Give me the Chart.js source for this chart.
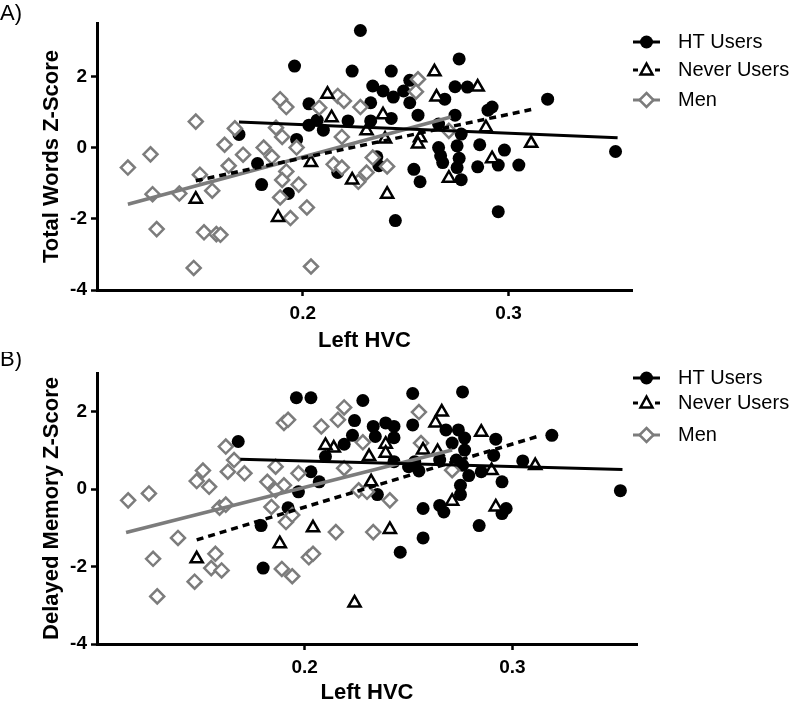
<!DOCTYPE html>
<html>
<head>
<meta charset="utf-8">
<script src="https://cdn.jsdelivr.net/npm/chart.js@4.4.0/dist/chart.umd.min.js"></script>
<style>
  body { margin: 0; background: #fff; }
  canvas { display: block; }
</style>
</head>
<body>
<canvas id="panelA" width="800" height="352"></canvas>
<canvas id="panelB" width="800" height="352"></canvas>
<script>
// ---- data: panel A (Total Words) ----
const htA_x = [0.228, 0.196, 0.224, 0.203, 0.203, 0.207, 0.210, 0.222, 0.169, 0.197, 0.178, 0.217, 0.180, 0.193,
  0.276, 0.243, 0.234, 0.239, 0.244, 0.249, 0.252, 0.252, 0.233, 0.274, 0.280, 0.269, 0.233, 0.243, 0.256, 0.274,
  0.292, 0.290, 0.319, 0.352, 0.277, 0.266, 0.266, 0.275, 0.286, 0.298, 0.267, 0.268, 0.276, 0.275, 0.285, 0.295,
  0.305, 0.254, 0.257, 0.277, 0.236, 0.237, 0.245, 0.295];
const htA_y = [3.29, 2.29, 2.15, 1.23, 0.63, 0.77, 0.49, 0.75, 0.37, 0.23, -0.45, -0.70, -1.04, -1.29,
  2.49, 2.15, 1.73, 1.59, 1.42, 1.59, 1.89, 1.26, 1.26, 1.71, 1.70, 1.36, 0.75, 0.82, 0.91, 0.91,
  1.14, 1.05, 1.36, -0.11, 0.38, 0.66, 0.00, 0.05, 0.08, -0.07, -0.23, -0.42, -0.30, -0.56, -0.54, -0.49,
  -0.49, -0.61, -0.96, -0.90, -0.26, -0.51, -2.05, -1.80];
const neverA_x = [0.212, 0.214, 0.204, 0.224, 0.148, 0.188, 0.264, 0.285, 0.265, 0.239, 0.231, 0.257, 0.256,
  0.289, 0.311, 0.292, 0.271, 0.241, 0.240];
const neverA_y = [1.50, 0.84, -0.42, -0.91, -1.45, -1.96, 2.13, 1.70, 1.42, 0.92, 0.47, 0.28, 0.10,
  0.56, 0.12, -0.31, -0.86, -1.31, 0.24];
const menA_x = [0.115, 0.126, 0.148, 0.127, 0.129, 0.140, 0.150, 0.156, 0.152, 0.158, 0.160, 0.147, 0.167, 0.162,
  0.164, 0.171, 0.189, 0.192, 0.187, 0.190, 0.181, 0.185, 0.197, 0.192, 0.190, 0.198, 0.189, 0.202, 0.194, 0.204,
  0.215, 0.217, 0.220, 0.208, 0.219, 0.228, 0.256, 0.255, 0.234, 0.241, 0.231, 0.227, 0.271, 0.219];
const menA_y = [-0.56, -0.19, 0.73, -1.31, -2.29, -1.29, -0.76, -1.21, -2.38, -2.43, -2.45, -3.38, 0.54, 0.08,
  -0.51, -0.20, 1.36, 1.14, 0.56, 0.30, 0.00, -0.26, 0.00, -0.67, -0.91, -1.04, -1.40, -1.68, -1.98, -3.34,
  -0.47, 1.45, 1.31, 1.12, 0.30, 1.14, 1.92, 1.57, -0.28, -0.53, -0.70, -0.96, 0.47, -0.56];
// fitted lines, panel A
const htFitA_x = [0.169, 0.353];
const htFitA_y = [0.72, 0.28];
const neverFitA_x = [0.148, 0.311];
const neverFitA_y = [-0.93, 1.07];
const menFitA_x = [0.115, 0.272];
const menFitA_y = [-1.59, 0.86];

// ---- data: panel B (Delayed Memory) ----
const htB_x = [0.196, 0.203, 0.228, 0.168, 0.224, 0.223, 0.219, 0.210, 0.203, 0.207, 0.197, 0.192, 0.179, 0.180,
  0.252, 0.276, 0.233, 0.239, 0.243, 0.252, 0.234, 0.243, 0.268, 0.274, 0.277, 0.271, 0.277, 0.292, 0.291, 0.319,
  0.305, 0.352, 0.243, 0.250, 0.255, 0.253, 0.265, 0.273, 0.276, 0.279, 0.285, 0.295, 0.275, 0.275, 0.235, 0.257,
  0.265, 0.267, 0.295, 0.297, 0.284, 0.257, 0.246];
const htB_y = [2.36, 2.36, 2.29, 1.23, 1.77, 1.39, 1.16, 0.84, 0.45, 0.19, -0.07, -0.48, -0.94, -2.04,
  2.47, 2.51, 1.62, 1.71, 1.62, 1.66, 1.36, 1.33, 1.53, 1.53, 1.32, 1.19, 1.01, 1.29, 0.87, 1.39,
  0.73, -0.04, 0.71, 0.58, 0.47, 0.71, 0.75, 0.75, 0.62, 0.35, 0.45, 0.19, 0.10, -0.14, -0.14, -0.50,
  -0.42, -0.59, -0.63, -0.50, -0.94, -1.26, -1.63];
const neverB_x = [0.148, 0.188, 0.204, 0.214, 0.210, 0.224, 0.266, 0.263, 0.285, 0.239, 0.239, 0.231, 0.257,
  0.264, 0.311, 0.290, 0.232, 0.271, 0.292, 0.241];
const neverB_y = [-1.80, -1.41, -1.00, 1.06, 1.13, -2.94, 1.99, 1.71, 1.47, 1.16, 0.93, 0.84, 1.01,
  0.97, 0.61, 0.48, 0.19, -0.31, -0.46, -1.04];
const menB_x = [0.115, 0.125, 0.127, 0.129, 0.139, 0.147, 0.155, 0.160, 0.157, 0.159, 0.162, 0.148, 0.151, 0.154,
  0.162, 0.166, 0.163, 0.171, 0.190, 0.192, 0.186, 0.182, 0.190, 0.186, 0.197, 0.184, 0.191, 0.194, 0.202, 0.204,
  0.189, 0.194, 0.208, 0.216, 0.219, 0.215, 0.219, 0.226, 0.255, 0.256, 0.228, 0.271, 0.230, 0.241, 0.233];
const menB_y = [-0.29, -0.11, -1.80, -2.77, -1.26, -2.39, -2.04, -2.10, -1.67, -0.48, -0.40, 0.21, 0.48, 0.06,
  1.10, 0.75, 0.45, 0.41, 1.71, 1.79, 0.58, 0.19, 0.10, -0.03, 0.41, -0.46, -0.85, -0.67, -1.76, -1.67,
  -2.06, -2.25, 1.62, 1.79, 2.11, -1.11, 0.54, -0.03, 1.99, 1.19, 1.21, 0.49, -0.07, -0.29, -1.11];
// fitted lines, panel B
const htFitB_x = [0.169, 0.353];
const htFitB_y = [0.77, 0.51];
const neverFitB_x = [0.148, 0.312];
const neverFitB_y = [-1.31, 1.36];
const menFitB_x = [0.114, 0.271];
const menFitB_y = [-1.12, 1.01];

const xTicks = [0.2, 0.3];
const yTicks = [-4, -2, 0, 2];
const legendLabels = ['HT Users', 'Never Users', 'Men'];

const FONT = "'Liberation Sans', Arial, sans-serif";
const GRAY = '#7c7c7c';

const pts = (xs, ys) => xs.map((x, i) => ({ x, y: ys[i] }));

// draws the legend on the right plus the panel letter
const sideLegend = {
  id: 'sideLegend',
  afterDraw(chart, args, opts) {
    const ctx = chart.ctx;
    ctx.save();
    ctx.fillStyle = '#000';
    ctx.textBaseline = 'middle';
    ctx.textAlign = 'left';
    ctx.font = `22px ${FONT}`;
    ctx.fillText(opts.letter, 0, opts.letterY);

    const x0 = 633, x1 = 660, cx = 646.5;
    opts.rowsY.forEach((y, i) => {
      ctx.lineWidth = 3;
      if (i === 0) {
        ctx.strokeStyle = '#000';
        ctx.beginPath(); ctx.moveTo(x0, y); ctx.lineTo(x1, y); ctx.stroke();
        ctx.fillStyle = '#000';
        ctx.beginPath(); ctx.arc(cx, y, 6.5, 0, Math.PI * 2); ctx.fill();
      } else if (i === 1) {
        ctx.strokeStyle = '#000';
        ctx.beginPath(); ctx.moveTo(x0, y); ctx.lineTo(x0 + 5, y); ctx.moveTo(x1 - 5, y); ctx.lineTo(x1, y); ctx.stroke();
        ctx.lineWidth = 2.5;
        ctx.fillStyle = '#fff';
        ctx.beginPath();
        ctx.moveTo(cx, y - 6.5); ctx.lineTo(cx + 6, y + 4.5); ctx.lineTo(cx - 6, y + 4.5); ctx.closePath();
        ctx.fill(); ctx.stroke();
      } else {
        ctx.strokeStyle = GRAY;
        ctx.beginPath(); ctx.moveTo(x0, y); ctx.lineTo(x1, y); ctx.stroke();
        ctx.lineWidth = 2.5;
        ctx.fillStyle = '#fff';
        ctx.beginPath();
        ctx.moveTo(cx, y - 7); ctx.lineTo(cx + 7, y); ctx.lineTo(cx, y + 7); ctx.lineTo(cx - 7, y); ctx.closePath();
        ctx.fill(); ctx.stroke();
      }
      ctx.fillStyle = '#000';
      ctx.font = `20px ${FONT}`;
      ctx.fillText(legendLabels[i], 678, y);
    });
    ctx.restore();
  }
};

function panelConfig(p) {
  const axisFont = { family: FONT, size: 19, weight: 'bold' };
  const grid = { display: true, drawOnChartArea: false, drawTicks: true, tickLength: 6, tickWidth: 2.5, tickColor: '#000' };
  const border = { display: true, width: 3, color: '#000' };
  return {
    type: 'scatter',
    data: {
      datasets: [
        { type: 'line', data: pts(p.htFit[0], p.htFit[1]), showLine: true, borderColor: '#000', borderWidth: 3, pointRadius: 0, order: 0 },
        { type: 'line', data: pts(p.neverFit[0], p.neverFit[1]), showLine: true, borderColor: '#000', borderWidth: 3.5, borderDash: [7, 5], pointRadius: 0, order: 1 },
        { type: 'line', data: pts(p.menFit[0], p.menFit[1]), showLine: true, borderColor: GRAY, borderWidth: 3.5, pointRadius: 0, order: 2 },
        { label: 'HT Users', data: pts(p.ht[0], p.ht[1]), pointStyle: 'circle', pointRadius: 6.5, backgroundColor: '#000', borderColor: '#000', borderWidth: 0, order: 6 },
        { label: 'Never Users', data: pts(p.never[0], p.never[1]), pointStyle: 'triangle', pointRadius: 7, backgroundColor: '#fff', borderColor: '#000', borderWidth: 2.5, order: 4 },
        { label: 'Men', data: pts(p.men[0], p.men[1]), pointStyle: 'rectRot', pointRadius: 7, backgroundColor: '#fff', borderColor: GRAY, borderWidth: 2.5, order: 5 }
      ]
    },
    options: {
      responsive: false,
      animation: false,
      events: [],
      layout: { padding: { top: p.top, right: p.right, left: 0, bottom: 0 } },
      plugins: {
        legend: { display: false },
        tooltip: { enabled: false },
        sideLegend: { letter: p.letter, letterY: p.letterY, rowsY: p.rowsY }
      },
      scales: {
        x: {
          type: 'linear', min: 0.1, max: 0.36,
          afterBuildTicks: s => { s.ticks = xTicks.map(v => ({ value: v })); },
          afterFit: s => { s.height = p.xAxisH; },
          ticks: { font: axisFont, color: '#000', padding: 6, callback: v => v.toFixed(1) },
          grid, border,
          title: { display: true, text: 'Left HVC', color: '#000', font: { family: FONT, size: 22, weight: 'bold', lineHeight: 1 }, padding: { top: 0, bottom: p.xTitlePad } }
        },
        y: {
          min: -4, max: p.yMax,
          afterBuildTicks: s => { s.ticks = yTicks.map(v => ({ value: v })); },
          afterFit: s => { s.width = 97; },
          ticks: { font: axisFont, color: '#000', padding: 4, callback: v => String(v) },
          grid, border,
          title: { display: true, text: p.yTitle, color: '#000', font: { family: FONT, size: 22, weight: 'bold' }, padding: { top: 39, bottom: 0 } }
        }
      }
    },
    plugins: [sideLegend]
  };
}

new Chart(document.getElementById('panelA'), panelConfig({
  letter: 'A)', letterY: 14, rowsY: [42, 70, 100],
  yTitle: 'Total Words Z-Score', yMax: 3.5,
  top: 23, right: 168, xAxisH: 62, xTitlePad: 0,
  ht: [htA_x, htA_y], never: [neverA_x, neverA_y], men: [menA_x, menA_y],
  htFit: [htFitA_x, htFitA_y], neverFit: [neverFitA_x, neverFitA_y], menFit: [menFitA_x, menFitA_y]
}));

new Chart(document.getElementById('panelB'), panelConfig({
  letter: 'B)', letterY: 8, rowsY: [26, 51, 83],
  yTitle: 'Delayed Memory Z-Score', yMax: 3,
  top: 21, right: 163, xAxisH: 60, xTitlePad: 0,
  ht: [htB_x, htB_y], never: [neverB_x, neverB_y], men: [menB_x, menB_y],
  htFit: [htFitB_x, htFitB_y], neverFit: [neverFitB_x, neverFitB_y], menFit: [menFitB_x, menFitB_y]
}));
</script>
</body>
</html>
